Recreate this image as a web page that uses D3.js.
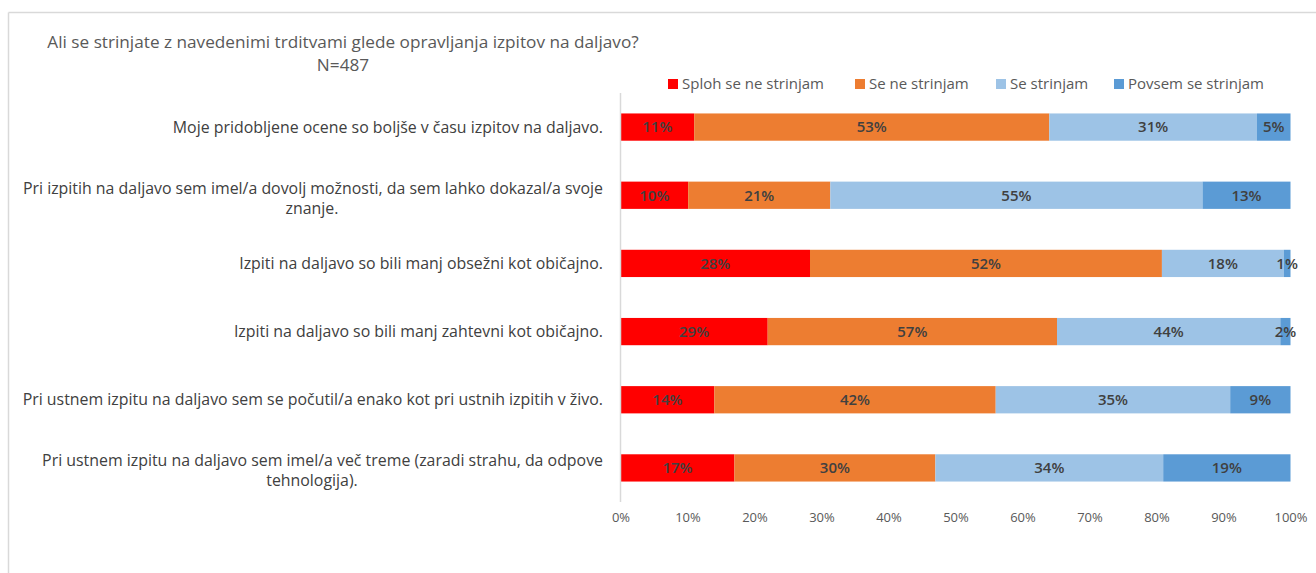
<!DOCTYPE html>
<html>
<head>
<meta charset="utf-8">
<script src="https://cdn.jsdelivr.net/npm/d3@7"></script>
<style>
  body { margin: 0; background: #fff; }
  svg { display: block; font-family: 'Open Sans', sans-serif; }
</style>
</head>
<body>
<svg id="chart"></svg>
<script>
// categories (lines of each label, top to bottom)
const categories = [
  ['Moje pridobljene ocene so boljše v času izpitov na daljavo.'],
  ['Pri izpitih na daljavo sem imel/a dovolj možnosti, da  sem lahko dokazal/a svoje', 'znanje.'],
  ['Izpiti na daljavo so bili manj obsežni kot običajno.'],
  ['Izpiti na daljavo so bili  manj zahtevni kot običajno.'],
  ['Pri ustnem izpitu na daljavo sem se počutil/a enako kot pri ustnih izpitih v živo.'],
  ['Pri ustnem izpitu na daljavo sem imel/a več treme (zaradi strahu, da odpove', 'tehnologija).']
];
const seriesNames = ['Sploh se ne strinjam', 'Se ne strinjam', 'Se strinjam', 'Povsem se strinjam'];
const splohNe = [11, 10, 28, 29, 14, 17];
const seNe = [53, 21, 52, 57, 42, 30];
const se = [31, 55, 18, 44, 35, 34];
const povsem = [5, 13, 1, 2, 9, 19];
const xTicks = [0, 0.1, 0.2, 0.3, 0.4, 0.5, 0.6, 0.7, 0.8, 0.9, 1];
const colors = ['#ff0000', '#ed7d31', '#9dc3e6', '#5b9bd5'];

const W = 1316, H = 573;
const svg = d3.select('#chart').attr('width', W).attr('height', H);

// chart frame (only top and left edges visible)
svg.append('line').attr('x1', 8.5).attr('x2', W).attr('y1', 12.5).attr('y2', 12.5)
  .attr('stroke', '#d9d9d9').attr('stroke-width', 1.5);
svg.append('line').attr('x1', 8.5).attr('x2', 8.5).attr('y1', 12.5).attr('y2', H)
  .attr('stroke', '#d9d9d9').attr('stroke-width', 1.5);

// title
svg.append('text').attr('x', 343).attr('y', 48).attr('text-anchor', 'middle')
  .attr('font-size', 17.2).attr('fill', '#595959')
  .text('Ali se strinjate z navedenimi trditvami glede opravljanja izpitov na daljavo?');
svg.append('text').attr('x', 343).attr('y', 71).attr('text-anchor', 'middle')
  .attr('font-size', 17.2).attr('fill', '#595959').text('N=487');

const rows = categories.map((c, i) => ({
  i: i,
  lines: c,
  v0: splohNe[i], v1: seNe[i], v2: se[i], v3: povsem[i]
}));

const keys = ['v0', 'v1', 'v2', 'v3'];
const stack = d3.stack().keys(keys).offset(d3.stackOffsetExpand);
const series = stack(rows);

const x = d3.scaleLinear().domain([0, 1]).range([620.5, 1290.5]);
const y = d3.scaleBand().domain(d3.range(rows.length)).range([93, 502])
  .paddingInner(0.6).paddingOuter(0.3);

// bars
const g = svg.append('g');
series.forEach((s, k) => {
  g.selectAll('.bar' + k).data(s).enter().append('rect')
    .attr('x', d => x(d[0]))
    .attr('y', (d, i) => y(i))
    .attr('width', d => x(d[1]) - x(d[0]))
    .attr('height', y.bandwidth())
    .attr('fill', colors[k]);
});

// value labels
series.forEach((s, k) => {
  g.selectAll('.lbl' + k).data(s).enter().append('text')
    .attr('x', d => (x(d[0]) + x(d[1])) / 2)
    .attr('y', (d, i) => y(i) + y.bandwidth() / 2)
    .attr('dy', '0.35em')
    .attr('text-anchor', 'middle')
    .attr('font-size', 15)
    .attr('font-weight', 600)
    .attr('fill', '#404040')
    .text(d => d.data[keys[k]] + '%');
});

// vertical axis line
svg.append('line').attr('x1', 620.5).attr('x2', 620.5).attr('y1', 93).attr('y2', 502)
  .attr('stroke', '#d9d9d9').attr('stroke-width', 1.5);

// category labels
rows.forEach((r, i) => {
  const t = svg.append('text').attr('font-size', 15.9).attr('fill', '#404040');
  const cy = y(i) + y.bandwidth() / 2;
  const n = r.lines.length;
  // first line right aligned to the axis, continuation lines centred
  r.lines.forEach((ln, j) => {
    t.append('tspan')
      .attr('x', j === 0 ? 603 : 312)
      .attr('text-anchor', j === 0 ? 'end' : 'middle')
      .attr('y', cy + (n > 1 ? 3 : 0) + (j - (n - 1) / 2) * 20)
      .attr('dy', '0.35em').text(ln);
  });
});

// x axis
const xAxis = svg.append('g').attr('transform', 'translate(0,510)')
  .call(d3.axisBottom(x).tickValues(xTicks).tickFormat(d3.format('.0%')).tickSize(0));
xAxis.select('.domain').remove();
xAxis.selectAll('text').attr('font-size', 13).attr('fill', '#595959')
  .attr('font-family', "'Open Sans', sans-serif");

// legend
const legendX = [668, 855, 996, 1114];
const legend = svg.append('g');
seriesNames.forEach((name, k) => {
  legend.append('rect').attr('x', legendX[k]).attr('y', 79).attr('width', 10).attr('height', 10)
    .attr('fill', colors[k]);
  legend.append('text').attr('x', legendX[k] + 14).attr('y', 84).attr('dy', '0.35em')
    .attr('font-size', 15).attr('fill', '#595959').text(name);
});
</script>
</body>
</html>
